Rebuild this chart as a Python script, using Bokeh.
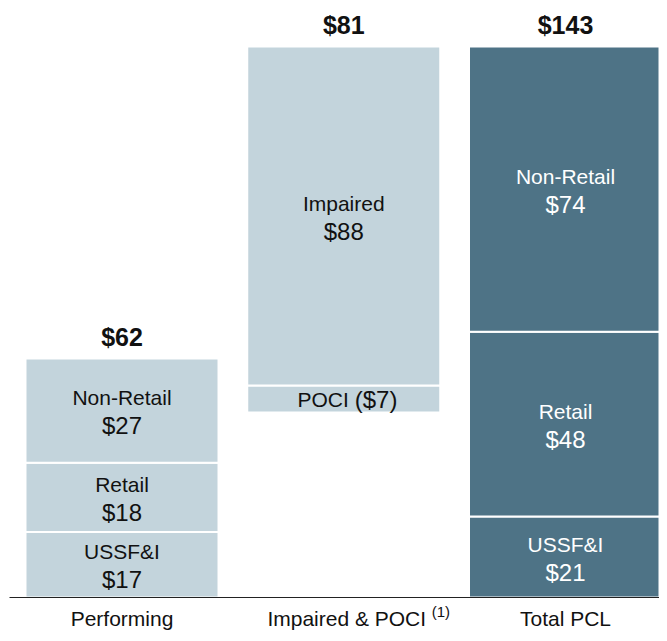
from bokeh.plotting import figure
from bokeh.models import Range1d, ColumnDataSource
from bokeh.core.properties import value
from bokeh.embed import file_html
from bokeh.resources import INLINE

# ---- data ----
categories = ["Performing", "Impaired & POCI", "Total PCL"]
segments = ["USSF&I", "Retail", "Non-Retail"]
performing_values = [17, 18, 27]
total_values = [21, 48, 74]
impaired_value = 88
poci_value = -7
bar_totals = [62, 81, 143]
footnote = "(1)"

LIGHT = "#C3D4DC"
DARK = "#4E7386"
FONT = value("Liberation Sans")

def stack(vals):
    bottoms, tops = [], []
    acc = 0
    for v in vals:
        bottoms.append(acc)
        acc += v
        tops.append(acc)
    return bottoms, tops

perf_b, perf_t = stack(performing_values)
tot_b, tot_t = stack(total_values)
imp_base = sum(total_values) - impaired_value
poci_b, poci_t = imp_base + poci_value, imp_base
imp_b, imp_t = imp_base, imp_base + impaired_value

W, H = 659, 633
BASE = 597   # screen y of the zero line
TOP = 46     # screen y of the top of the tallest bar
px_per_x = 221.75
px_per_y = (BASE - TOP) / 143.0
x0 = -121.5 / px_per_x
x1 = x0 + W / px_per_x
y1 = BASE / px_per_y
y0 = y1 - H / px_per_y

p = figure(width=W, height=H, output_backend="svg", toolbar_location=None,
           x_range=Range1d(x0, x1), y_range=Range1d(y0, y1),
           min_border=0, min_border_left=0, min_border_right=0,
           min_border_top=0, min_border_bottom=0)
p.axis.visible = False
p.grid.visible = False
p.outline_line_color = None
p.background_fill_color = "white"

bw = 193 / px_per_x

# light bars
light = ColumnDataSource(dict(
    x=[0, 0, 0, 1, 1],
    bottom=perf_b + [poci_b, imp_b],
    top=perf_t + [poci_t, imp_t],
))
p.vbar(x="x", bottom="bottom", top="top", width=bw, source=light,
       fill_color=LIGHT, line_color="white", line_width=2)

dark = ColumnDataSource(dict(x=[2, 2, 2], bottom=tot_b, top=tot_t))
p.vbar(x="x", bottom="bottom", top="top", width=bw, source=dark,
       fill_color=DARK, line_color="white", line_width=2)

# segment labels
def seg_labels(xi, names, vals, bottoms, tops, color):
    mids = [(b + t) / 2 for b, t in zip(bottoms, tops)]
    src = ColumnDataSource(dict(x=[xi] * len(names), y=mids, name=names,
                                val=[f"${v}" for v in vals]))
    p.text(x="x", y="y", text="name", source=src, text_font=FONT,
           text_font_size="21px", text_color=color, text_align="center",
           text_baseline="middle", y_offset=-13)
    p.text(x="x", y="y", text="val", source=src, text_font=FONT,
           text_font_size="24px", text_color=color, text_align="center",
           text_baseline="middle", y_offset=15)

seg_labels(0, segments, performing_values, perf_b, perf_t, "#111111")
seg_labels(1, ["Impaired"], [impaired_value], [imp_b], [imp_t], "#111111")
seg_labels(2, segments, total_values, tot_b, tot_t, "white")

# POCI label
poci_mid = (poci_b + poci_t) / 2
p.text(x=[1], y=[poci_mid], text=["POCI"], text_font=FONT, text_font_size="21px",
       text_color="#111111", text_align="right", text_baseline="middle", x_offset=5)
p.text(x=[1], y=[poci_mid], text=[f"(${abs(poci_value)})"], text_font=FONT,
       text_font_size="24px", text_color="#111111", text_align="left",
       text_baseline="middle", x_offset=11)

# totals above bars
bar_tops = [perf_t[-1], imp_t, tot_t[-1]]
tsrc = ColumnDataSource(dict(x=[0, 1, 2], y=bar_tops,
                             t=[f"${v}" for v in bar_totals]))
p.text(x="x", y="y", text="t", source=tsrc, text_font=FONT, text_font_size="25px",
       text_font_style="bold", text_color="#111111", text_align="center",
       text_baseline="middle", y_offset=-22)

# baseline
p.segment(x0=[x0 + 9 / px_per_x], y0=[0], x1=[x1], y1=[0],
          line_color="#222222", line_width=1.2)

# category labels
csrc = ColumnDataSource(dict(x=[0, 1, 2], y=[0, 0, 0], t=categories, dx=[0, 3, 0]))
p.text(x="x", y="y", text="t", source=csrc, text_font=FONT, text_font_size="21px",
       text_color="#111111", text_align="center", text_baseline="middle",
       y_offset=21, x_offset="dx")
p.text(x=[1], y=[0], text=[footnote], text_font=FONT, text_font_size="15px",
       text_color="#111111", text_align="left", text_baseline="middle",
       y_offset=14, x_offset=88)

open("out.html", "w").write(file_html(p, INLINE))
